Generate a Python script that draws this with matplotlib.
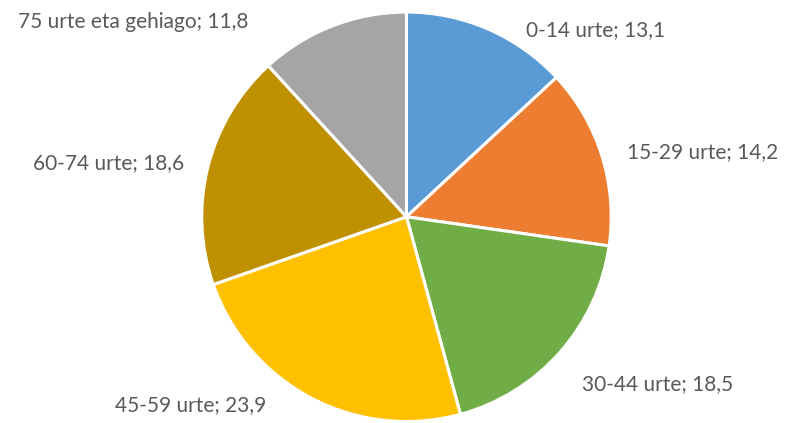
import matplotlib
matplotlib.use("Agg")
import matplotlib.pyplot as plt

categories = ["0-14 urte", "15-29 urte", "30-44 urte", "45-59 urte", "60-74 urte", "75 urte eta gehiago"]
values = [13.1, 14.2, 18.5, 23.9, 18.6, 11.8]
colors = ["#5B9BD5", "#ED7D31", "#70AD47", "#FFC000", "#BF9000", "#A5A5A5"]

# label anchor positions (axes data units, pie radius = 1) and alignment
label_pos = [(0.583, 0.912, "left"), (1.078, 0.314, "left"), (0.858, -0.819, "left"),
             (-0.686, -0.922, "right"), (-1.088, 0.26, "right"), (-0.770, 0.951, "right")]

fig = plt.figure(figsize=(7.97, 4.23), dpi=100)
ax = fig.add_axes([0.253, 0.0035, 0.514, 0.968])
ax.pie(values, colors=colors, startangle=90, counterclock=False, radius=1,
       wedgeprops=dict(edgecolor="white", linewidth=2.2))
ax.set_xlim(-1, 1)
ax.set_ylim(-1, 1)
ax.set_aspect("equal")
ax.axis("off")

for cat, v, (x, y, ha) in zip(categories, values, label_pos):
    txt = f"{cat}; {v:.1f}".replace(".", ",")
    ax.text(x, y, txt, ha=ha, va="center", fontsize=15, family="Lato",
            color="#595959", clip_on=False)

fig.savefig("out.png", dpi=100)
